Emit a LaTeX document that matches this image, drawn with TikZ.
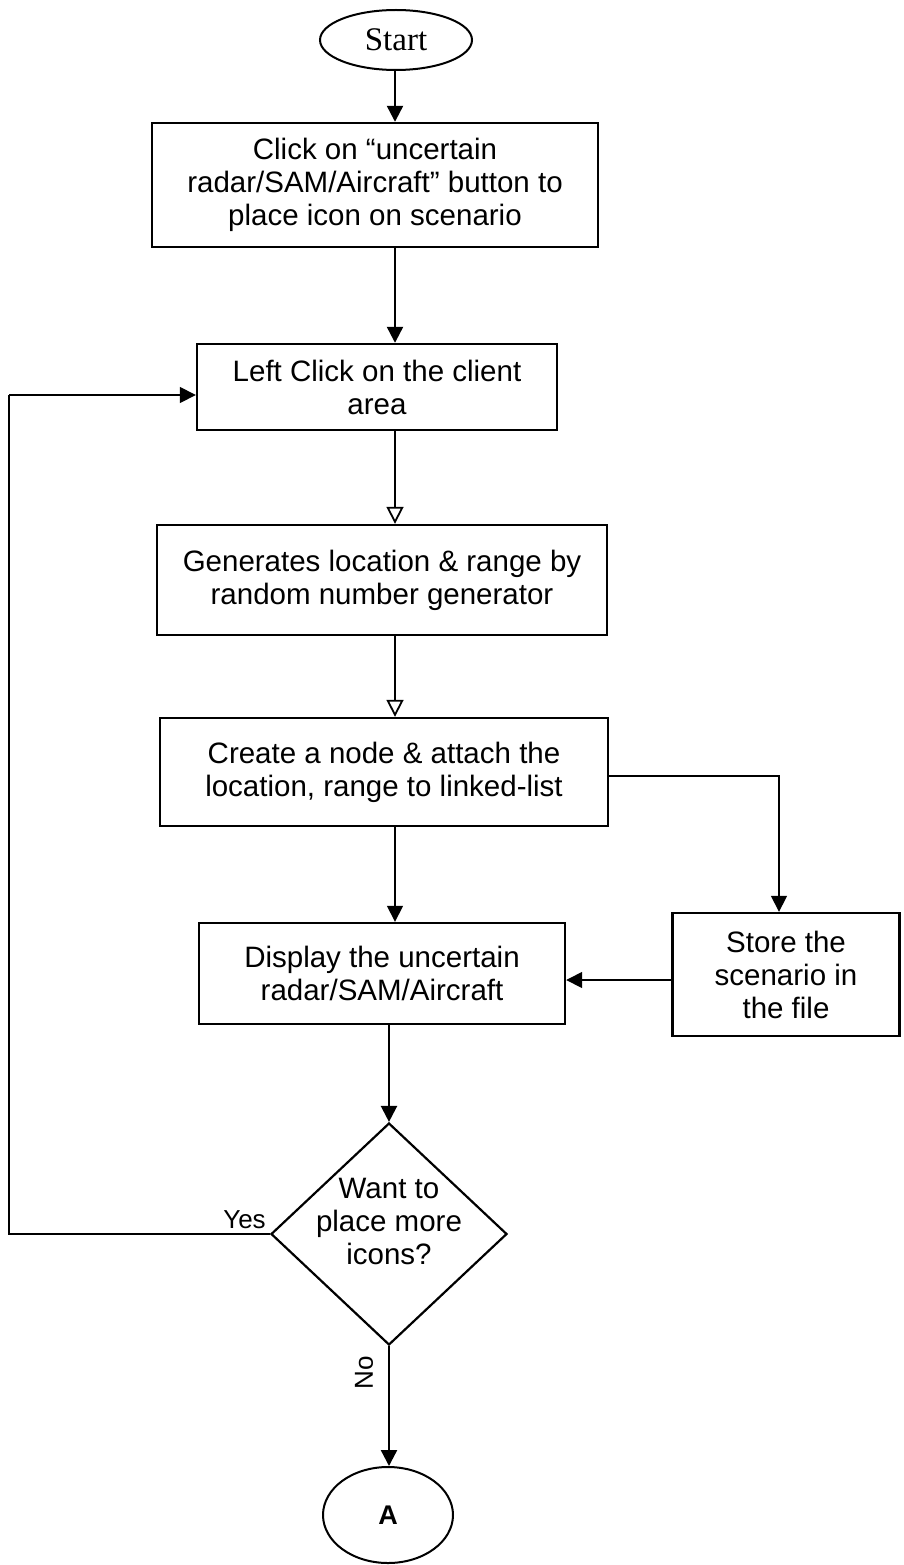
\documentclass[tikz,border=0pt]{standalone}
\usepackage{fontspec}
\setmainfont{Liberation Sans}
\newfontfamily\serifface{Liberation Serif}
\usetikzlibrary{arrows.meta,shapes.geometric}

\tikzset{
  flowline/.style={line width=2.3pt},
  thinline/.style={line width=1.6pt},
  arr/.style={flowline,-{Triangle[length=16pt,width=16pt]}},
  thinarr/.style={thinline,-{Triangle[length=16pt,width=16pt]}},
  openarr/.style={thinline,-{Triangle[open,length=17pt,width=17pt,line width=1.8pt]}},
  procbox/.style={draw,line width=2.4pt,rectangle,inner sep=0pt,align=center,
    font=\fontsize{29.5}{33}\selectfont},
  terminal/.style={draw,line width=2pt,ellipse,inner sep=0pt},
  decision/.style={draw,line width=2.2pt,diamond,inner sep=0pt},
  dectext/.style={align=center,inner sep=0pt,font=\fontsize{29.5}{33}\selectfont},
  edgelabel/.style={font=\fontsize{26}{28}\selectfont,inner sep=0pt}
}

\begin{document}
\begin{tikzpicture}[x=1pt,y=-1pt]
\useasboundingbox[fill=white] (0,0) rectangle (903,1565);

% terminals
\node[terminal,minimum width=152pt,minimum height=60pt,
      font=\serifface\fontsize{33}{36}\selectfont] (start) at (396,40) {Start};
\node[terminal,minimum width=130pt,minimum height=96pt,
      font=\bfseries\fontsize{27}{30}\selectfont] (conA) at (388,1515) {A};

% process boxes
\node[procbox,minimum width=446pt,minimum height=124pt] (b1) at (375,185)
  {Click on “uncertain\\radar/SAM/Aircraft” button to\\place icon on scenario};
\node[procbox,minimum width=360pt,minimum height=86pt] (b2) at (377,387)
  {Left Click on the client\\area};
\node[procbox,minimum width=450pt,minimum height=110pt] (b3) at (382,580)
  {Generates location \& range by\\random number generator};
\node[procbox,minimum width=448pt,minimum height=108pt] (b4) at (384,772)
  {Create a node \& attach the\\location, range to linked-list};
\node[procbox,minimum width=366pt,minimum height=101pt] (b5) at (382,973.5)
  {Display the uncertain\\radar/SAM/Aircraft};
\node[procbox,minimum width=227pt,minimum height=123pt] (b6) at (786,974.5)
  {Store the\\scenario in\\the file};

% decision: outline and its question, set a little above the centre
\node[decision,minimum width=236pt,minimum height=222pt] (dec) at (389,1234) {};
\node[dectext] (dectxt) at (389,1221) {Want to\\place more\\icons?};

% routing points
\coordinate (spine) at (395,0);
\coordinate (tap) at (779,776);
\coordinate (loopx) at (9,0);
\coordinate (loopy) at (0,395);
\coordinate (sidey) at (0,980);

% main flow
\draw[arr] (start.south -| spine) -- (b1.north -| spine);
\draw[arr] (b1.south -| spine) -- (b2.north -| spine);
\draw[openarr] (b2.south -| spine) -- (b3.north -| spine);
\draw[openarr] (b3.south -| spine) -- (b4.north -| spine);
\draw[thinarr] (b4.south -| spine) -- (b5.north -| spine);
\draw[arr] (b5.south -| dec.north) -- (dec.north);
\draw[arr] (dec.south) -- (dec.south |- conA.north);
\node[edgelabel,rotate=90] (nolab) at (364,1373) {No};

% branch to storage
\draw[thinarr] (b4.east |- tap) -| (b6.north -| tap);
\draw[thinarr] (b6.west |- sidey) -- (b5.east |- sidey);

% loop back
\draw[thinline] (dec.west) -| (loopx |- loopy);
\draw[thinarr] (loopx |- loopy) -- (b2.west |- loopy);
\node[edgelabel,anchor=south east] (yeslab) at ([shift={(-4pt,5pt)}]dec.west) {Yes};

\end{tikzpicture}
\end{document}
